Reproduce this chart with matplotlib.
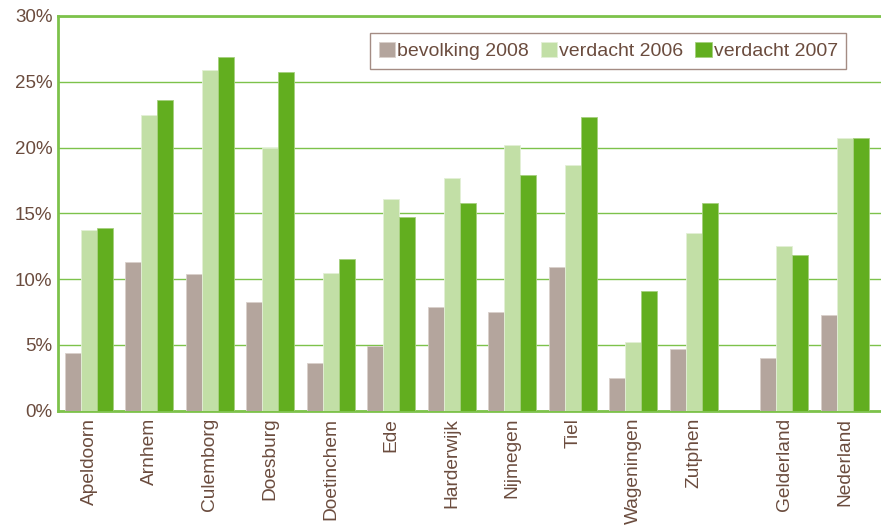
import numpy as np
import matplotlib.pyplot as plt
from matplotlib.ticker import FuncFormatter

plt.rcParams['font.family'] = ['Liberation Sans', 'DejaVu Sans']

# -----------------------------
# data
# -----------------------------
gemeenten = ["Apeldoorn", "Arnhem", "Culemborg", "Doesburg", "Doetinchem", "Ede",
             "Harderwijk", "Nijmegen", "Tiel", "Wageningen", "Zutphen",
             "Gelderland", "Nederland"]
bevolking_2008 = [4.4, 11.3, 10.4, 8.3, 3.6, 4.9, 7.9, 7.5, 10.9, 2.5, 4.7, 4.0, 7.3]
verdacht_2006 = [13.7, 22.5, 25.9, 20.0, 10.5, 16.1, 17.7, 20.2, 18.7, 5.2, 13.5, 12.5, 20.7]
verdacht_2007 = [13.9, 23.6, 26.9, 25.7, 11.5, 14.7, 15.8, 17.9, 22.3, 9.1, 15.8, 11.8, 20.7]

# extra gap before the province / country totals
pos = np.arange(len(gemeenten), dtype=float)
pos[11:] += 0.5

C_BEV = "#b4a59d"
C_V06 = "#c2dfa6"
C_V07 = "#62ae1f"
C_GRID = "#7dc24b"
C_TEXT = "#6b4c3e"

fig = plt.figure(figsize=(8.81, 5.30), dpi=100)
ax = fig.add_axes([0.066, 0.225, 0.934, 0.745])

w = 0.265
ax.bar(pos - w, bevolking_2008, w, color=C_BEV, edgecolor="#d9d0cb", linewidth=0.6,
       label="bevolking 2008", zorder=3)
ax.bar(pos, verdacht_2006, w, color=C_V06, edgecolor="#e3f0d6", linewidth=0.6,
       label="verdacht 2006", zorder=3)
ax.bar(pos + w, verdacht_2007, w, color=C_V07, edgecolor="#a6d07f", linewidth=0.6,
       label="verdacht 2007", zorder=3)

ax.set_xlim(-0.51, 13.1)
ax.set_ylim(0, 30)
ax.set_yticks(np.arange(0, 31, 5))
ax.yaxis.set_major_formatter(FuncFormatter(lambda v, p: f"{v:.0f}%"))
ax.grid(axis="y", color=C_GRID, linewidth=1.0, zorder=0)
ax.set_xticks(pos)
ax.set_xticklabels(gemeenten, rotation=90, fontsize=13.8, color=C_TEXT)
ax.tick_params(axis="y", labelsize=13.5, labelcolor=C_TEXT, length=0, pad=4)
ax.tick_params(axis="x", length=0, pad=5)

for side in ["left", "top", "bottom"]:
    ax.spines[side].set_color(C_GRID)
    ax.spines[side].set_linewidth(2.0)
ax.spines["right"].set_visible(False)

leg = ax.legend(loc="upper right", bbox_to_anchor=(0.958, 0.957), borderaxespad=0,
                ncol=3, fontsize=14, frameon=True, fancybox=False, borderpad=0.45,
                handlelength=0.85, handleheight=0.85, handletextpad=0.1,
                columnspacing=0.6, labelcolor=C_TEXT)
leg.get_frame().set_edgecolor("#8d7065")
leg.get_frame().set_linewidth(1.0)

fig.savefig("out.png", dpi=100)
